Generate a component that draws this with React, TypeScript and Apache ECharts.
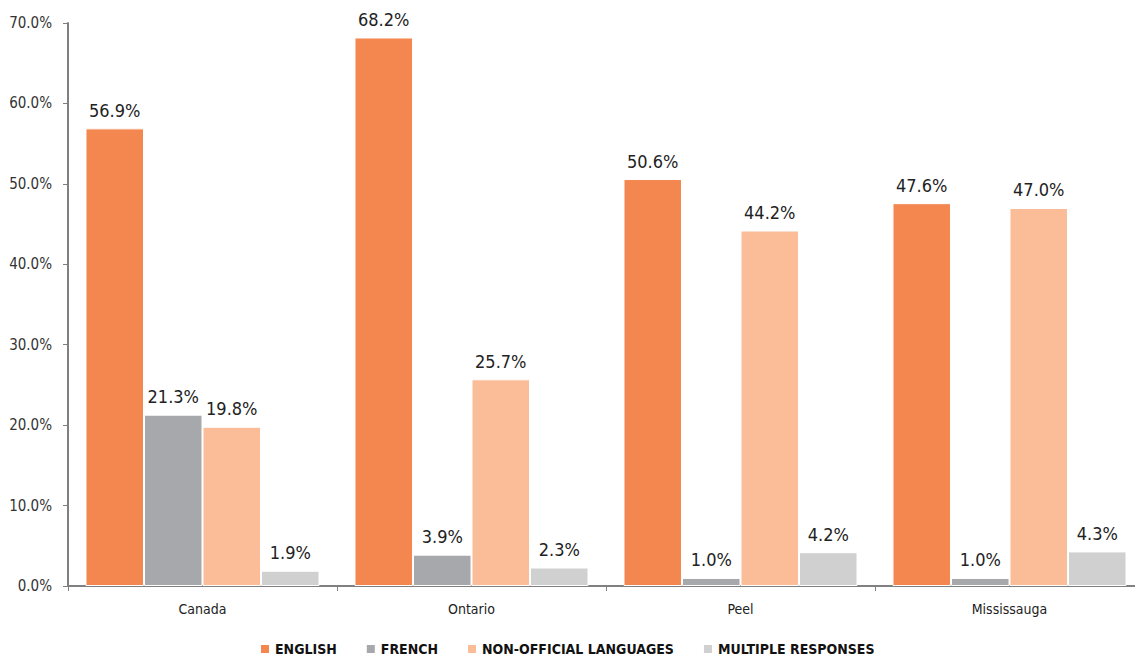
import React, { useEffect, useRef } from "react";
import * as echarts from "echarts";

const categories = ["Canada", "Ontario", "Peel", "Mississauga"];
const seriesNames = ["ENGLISH", "FRENCH", "NON-OFFICIAL LANGUAGES", "MULTIPLE RESPONSES"];
const english = [56.9, 68.2, 50.6, 47.6];
const french = [21.3, 3.9, 1.0, 1.0];
const nonOfficial = [19.8, 25.7, 44.2, 47.0];
const multiple = [1.9, 2.3, 4.2, 4.3];
const colors = ["#F4874F", "#A7A8AB", "#FBBD98", "#D0D0D0"];

const FONT = "'Liberation Sans Narrow', 'Arial Narrow', 'DejaVu Sans Condensed', sans-serif";

export default function App() {
  const ref = useRef<HTMLDivElement>(null);
  useEffect(() => {
    document.body.style.margin = "0";
    document.body.style.overflow = "hidden";
    const chart = echarts.init(ref.current!, null, { renderer: "svg" });
    const data = [english, french, nonOfficial, multiple];
    chart.setOption({
      animation: false,
      textStyle: { fontFamily: FONT },
      grid: { left: 68, right: 6, top: 23, bottom: 72, containLabel: false },
      legend: {
        top: 637,
        left: 254,
        icon: "rect",
        itemWidth: 10,
        itemHeight: 10,
        itemGap: 28,
        textStyle: { fontFamily: FONT, fontSize: 14, fontWeight: "bold", color: "#111" },
        data: seriesNames,
      },
      xAxis: {
        type: "category",
        data: categories,
        axisLine: { lineStyle: { color: "#808080", width: 2 } },
        axisTick: { show: true, length: 5, lineStyle: { color: "#808080", width: 1 } },
        axisLabel: { margin: 16, fontSize: 14, color: "#222", fontFamily: FONT },
      },
      yAxis: {
        type: "value",
        min: 0,
        max: 70,
        interval: 10,
        axisLine: { show: true, lineStyle: { color: "#808080", width: 2 } },
        axisTick: { show: true, length: 5, lineStyle: { color: "#808080", width: 1 } },
        splitLine: { show: false },
        axisLabel: {
          margin: 16,
          fontSize: 15,
          color: "#333",
          fontFamily: FONT,
          formatter: (v: number) => v.toFixed(1) + "%",
        },
      },
      series: seriesNames.map((name, i) => ({
        name,
        type: "bar",
        data: data[i],
        barGap: "0%",
        barCategoryGap: "13%",
        itemStyle: { color: colors[i], borderColor: "#fff", borderWidth: 1 },
        label: {
          show: true,
          position: "top",
          distance: 9,
          fontSize: 18,
          color: "#222",
          fontFamily: FONT,
          formatter: (p: any) => Number(p.value).toFixed(1) + "%",
        },
      })),
    });
    return () => chart.dispose();
  }, []);
  return (
    <div
      ref={ref}
      style={{ position: "fixed", left: 0, top: 0, width: 1150, height: 658, background: "#fff" }}
    />
  );
}
